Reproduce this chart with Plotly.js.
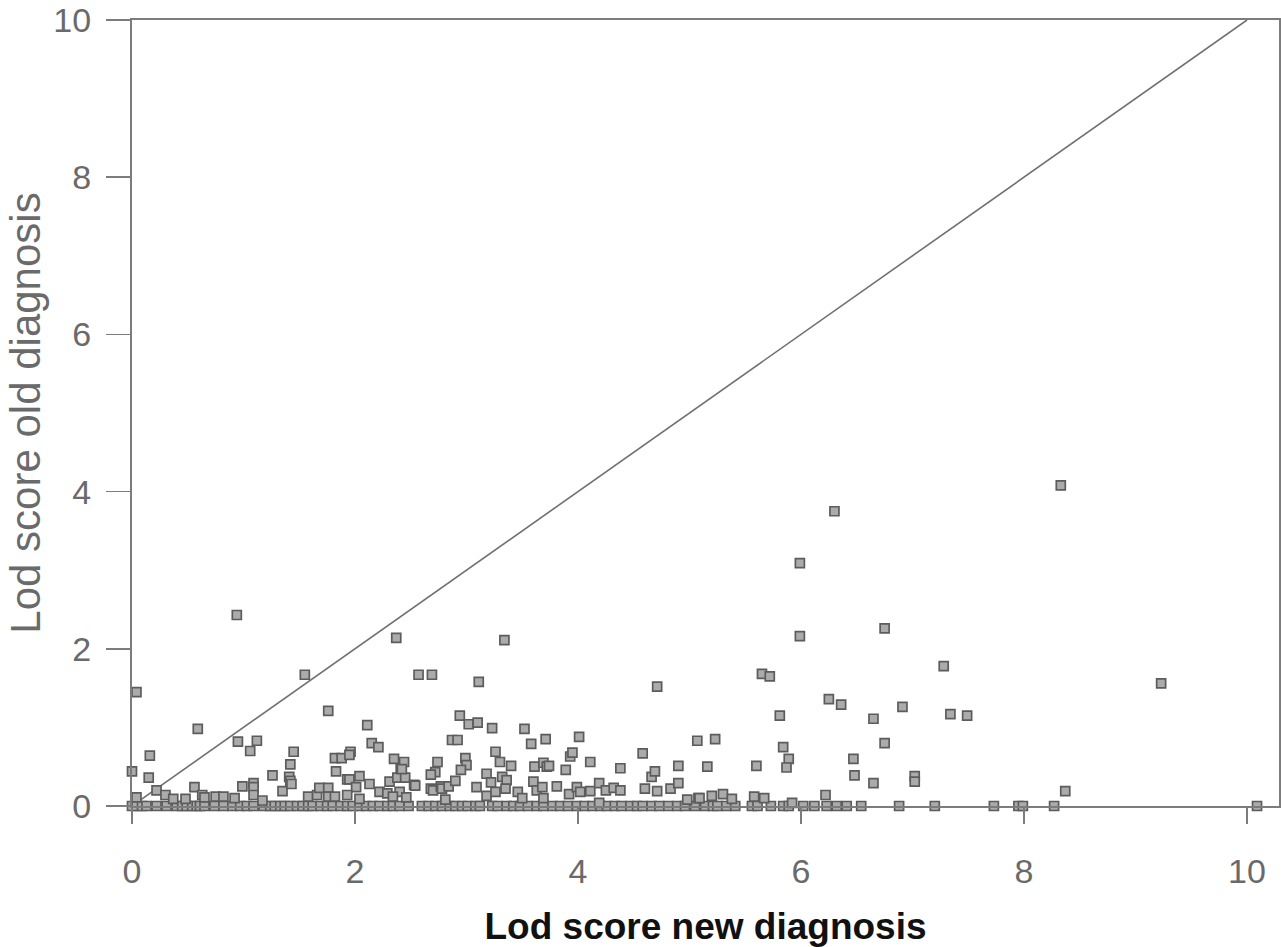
<!DOCTYPE html>
<html>
<head>
<meta charset="utf-8">
<script src="https://cdn.plot.ly/plotly-3.0.1.min.js"></script>
<style>html,body{margin:0;padding:0;background:#fff;}#chart{width:1281px;height:947px;}</style>
</head>
<body>
<div id="chart"></div>
<script>
// Lod score new diagnosis (x) vs Lod score old diagnosis (y)
const newLodHigh = [0.00,0.04,0.16,0.15,0.59,0.94,0.95,1.06,1.12,1.55,1.76,2.11,2.15,2.21,2.37,2.57,2.69,3.11,2.94,3.02,3.10,3.23,3.34,3.52,2.87,2.92,3.58,3.71,4.01,4.71,5.07,5.23,5.65,5.72,5.81,5.99,5.99,6.30,6.25,6.36,6.47,6.65,6.75,6.75,6.91,7.28,7.34,7.49,8.33,9.23,8.37,10.29,5.84,5.89,5.87,5.16,5.60,6.48,6.65,7.02,7.02,6.22,5.20,5.30,5.38,5.09,5.58,5.67,5.92];
const oldLodHigh = [0.44,1.45,0.64,0.36,0.98,2.43,0.82,0.70,0.83,1.67,1.21,1.03,0.80,0.75,2.14,1.67,1.67,1.58,1.15,1.04,1.06,0.99,2.11,0.98,0.84,0.84,0.79,0.85,0.88,1.52,0.83,0.85,1.68,1.65,1.15,3.09,2.16,3.75,1.36,1.29,0.60,1.11,2.26,0.80,1.26,1.78,1.17,1.15,4.08,1.56,0.19,0.45,0.75,0.60,0.49,0.50,0.51,0.39,0.29,0.38,0.31,0.14,0.13,0.15,0.09,0.10,0.12,0.10,0.04];

const newLodLow = [0.22,0.30,0.37,0.04,0.56,0.48,0.63,0.65,0.75,0.82,0.92,0.99,1.09,1.09,1.09,1.17,1.26,1.35,1.42,1.45,1.41,1.42,1.43,1.58,1.66,1.68,1.76,1.76,1.82,1.83,1.82,1.88,1.96,1.95,1.93,1.95,2.04,2.01,1.93,2.04,2.13,2.22,2.29,2.31,2.35,2.41,2.44,2.38,2.45,2.40,2.46,2.53,2.34,
  2.42,2.54,2.74,2.72,2.68,2.68,2.70,2.77,2.78,2.84,2.90,2.81,2.99,3.00,2.95,3.09,3.18,3.22,3.18,3.26,3.30,3.32,3.36,3.35,3.26,3.40,3.46,3.50,3.60,3.61,3.69,3.72,3.74,3.63,3.68,3.69,3.81,3.89,3.93,3.95,3.92,3.99,4.02,4.11,4.11,4.19,4.25,4.32,4.38,4.38,4.19,4.58,4.60,4.66,4.69,4.71,4.83,4.90,4.90,4.98,5.08];
const oldLodLow = [0.20,0.14,0.09,0.11,0.24,0.09,0.14,0.11,0.12,0.12,0.10,0.25,0.29,0.24,0.14,0.07,0.39,0.19,0.53,0.69,0.37,0.32,0.28,0.12,0.14,0.23,0.23,0.12,0.12,0.44,0.61,0.61,0.69,0.65,0.34,0.34,0.38,0.24,0.14,0.09,0.28,0.18,0.16,0.31,0.60,0.48,0.56,0.36,0.36,0.18,0.11,0.27,0.12,
  0.47,0.26,0.56,0.43,0.40,0.22,0.20,0.25,0.22,0.25,0.32,0.08,0.61,0.52,0.46,0.24,0.41,0.30,0.13,0.69,0.56,0.37,0.33,0.22,0.18,0.51,0.18,0.10,0.31,0.50,0.55,0.50,0.51,0.20,0.24,0.10,0.25,0.46,0.63,0.68,0.15,0.24,0.18,0.56,0.19,0.29,0.20,0.23,0.20,0.48,0.04,0.67,0.22,0.37,0.44,0.19,0.22,0.29,0.51,0.08,0.10];

const newLodZero = [0,0.04,0.09,0.13,0.22,0.31,0.40,0.45,0.49,0.54,0.58,0.61,0.65,0.74,0.82,0.90,0.97,1.03,1.09,1.18,1.24,1.28,1.33,1.37,1.42,1.48,1.53,1.58,1.62,1.69,1.75,1.80,1.87,1.93,1.98,2.04,2.10,2.16,2.22,2.29,2.34,2.40,2.48,2.60,2.66,2.72,2.78,2.85,2.90,2.96,3.01,3.08,3.12,3.23,3.28,3.36,3.42,3.48,3.55,3.63,3.69,3.77,3.84,3.91,3.99,4.06,4.13,4.20,4.26,4.33,4.39,4.47,4.53,4.58,4.66,4.73,4.81,4.89,4.96,5.05,5.14,5.21,5.25,5.33,5.41,5.56,5.61,5.73,5.84,5.89,6.02,6.12,6.23,6.32,6.41,6.54,6.88,7.20,7.73,7.95,7.99,8.27,10.09];
const oldLodZero = newLodZero.map(() => 0);

const identityX = [0, 10];
const identityY = [0, 10];
const tickVals = [0, 2, 4, 6, 8, 10];
const tickText = ['0', '2', '4', '6', '8', '10'];

const xs = newLodZero.concat(newLodLow, newLodHigh);
const ys = oldLodZero.concat(oldLodLow, oldLodHigh);

const FONT = 'Liberation Sans, Arial, Helvetica, sans-serif';
const axisGray = '#7c7c7c';

const traces = [
  {x: identityX, y: identityY, mode: 'lines', type: 'scatter', line: {color: '#707070', width: 1.6}, hoverinfo: 'skip', cliponaxis: false},
  {x: xs, y: ys, mode: 'markers', type: 'scatter', cliponaxis: false,
   marker: {symbol: 'square', size: 9, color: '#ababab', line: {color: '#5c5c5c', width: 1.7}}}
];

const layout = {
  width: 1281, height: 947,
  margin: {l: 132, r: 2, t: 20, b: 141, pad: 0},
  paper_bgcolor: '#ffffff', plot_bgcolor: '#ffffff',
  showlegend: false,
  font: {family: FONT},
  xaxis: {
    range: [0, 10.287], showline: true, mirror: true, linecolor: axisGray, linewidth: 2,
    ticks: 'outside', ticklen: 16, tickwidth: 1.5, tickcolor: axisGray,
    tickvals: tickVals, ticktext: tickText, showgrid: false, zeroline: false,
    ticklabelstandoff: 18,
    tickfont: {family: FONT, size: 34, color: '#6a6a6a'},
    title: {text: 'Lod score new diagnosis', font: {family: FONT, size: 37, color: '#111111', weight: 'bold'}, standoff: 32}
  },
  yaxis: {
    range: [0, 10], showline: true, mirror: true, linecolor: axisGray, linewidth: 2,
    ticks: 'outside', ticklen: 24, tickwidth: 1.5, tickcolor: axisGray,
    tickvals: tickVals, ticktext: tickText, showgrid: false, zeroline: false,
    ticklabelstandoff: 8,
    tickfont: {family: FONT, size: 34, color: '#6a6a6a'},
    title: {text: 'Lod score old diagnosis', font: {family: FONT, size: 42, color: '#6a6a6a'}, standoff: 0}
  }
};

Plotly.newPlot('chart', traces, layout, {displayModeBar: false, staticPlot: true});
</script>
</body>
</html>
